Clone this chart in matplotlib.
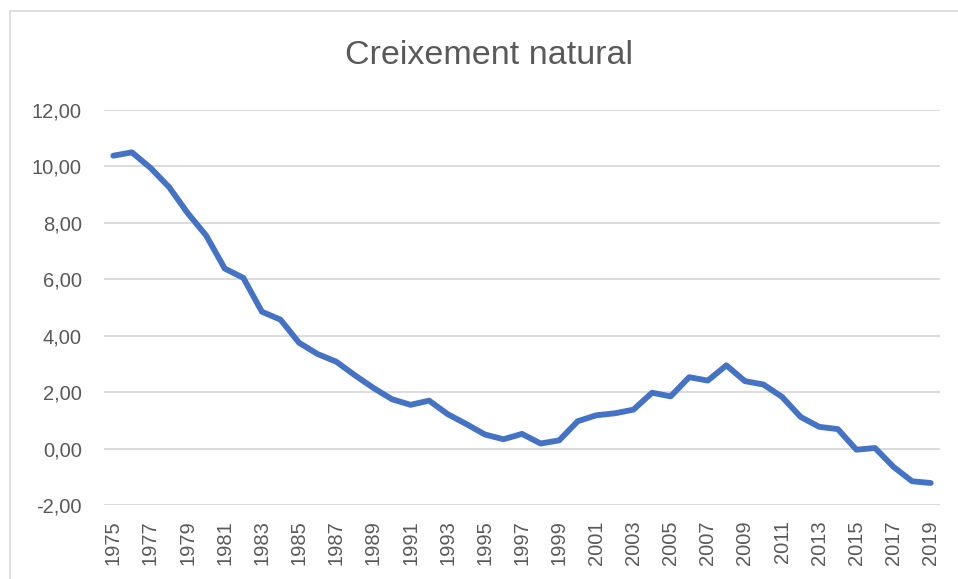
import matplotlib
matplotlib.use("Agg")
import matplotlib.pyplot as plt
from matplotlib.lines import Line2D
from matplotlib.ticker import FuncFormatter

years = list(range(1975, 2020))
values = [10.38, 10.50, 9.95, 9.27, 8.35, 7.55, 6.38, 6.05, 4.85, 4.57,
          3.75, 3.35, 3.08, 2.60, 2.15, 1.75, 1.55, 1.70, 1.22, 0.87,
          0.50, 0.33, 0.52, 0.18, 0.29, 0.97, 1.18, 1.25, 1.38, 1.98,
          1.85, 2.53, 2.41, 2.95, 2.39, 2.27, 1.83, 1.12, 0.77, 0.69,
          -0.04, 0.02, -0.65, -1.16, -1.22]
title = "Creixement natural"
yticks = [-2, 0, 2, 4, 6, 8, 10, 12]
xtick_years = years[::2]

W, H = 958, 579
fig = plt.figure(figsize=(W / 100, H / 100), dpi=100)
plt.rcParams['font.family'] = ['Liberation Sans', 'DejaVu Sans']

ax = fig.add_axes([104 / W, (H - 505) / H, (940 - 104) / W, (505 - 110) / H])
ax.plot(years, values, color='#4472C4', linewidth=4.2, solid_capstyle='round',
        solid_joinstyle='round', zorder=3)

ax.set_xlim(1974.5, 2019.5)
ax.set_ylim(-2, 12)
ax.set_yticks(yticks)
ax.yaxis.set_major_formatter(FuncFormatter(lambda v, p: f"{v:.2f}".replace('.', ',')))
ax.set_xticks(xtick_years)
ax.set_xticklabels([str(y) for y in xtick_years], rotation=90)
ax.grid(axis='y', color='#D9D9D9', linewidth=1.3)
ax.set_axisbelow(True)
for s in ax.spines.values():
    s.set_visible(False)
ax.tick_params(axis='both', length=0, colors='#595959', labelsize=14.5)
ax.tick_params(axis='y', pad=16)
ax.tick_params(axis='x', pad=11)

fig.text(489 / W, 1 - 56 / H, title, ha='center', va='center',
         fontsize=24.5, color='#595959')

# chart area border (left and top edges)
fig.add_artist(Line2D([10 / W, 1], [1 - 11 / H, 1 - 11 / H], color='#D9D9D9', linewidth=1.2))
fig.add_artist(Line2D([10 / W, 10 / W], [0, 1 - 11 / H], color='#D9D9D9', linewidth=1.2))

fig.savefig("out.png", dpi=100, facecolor='white')
